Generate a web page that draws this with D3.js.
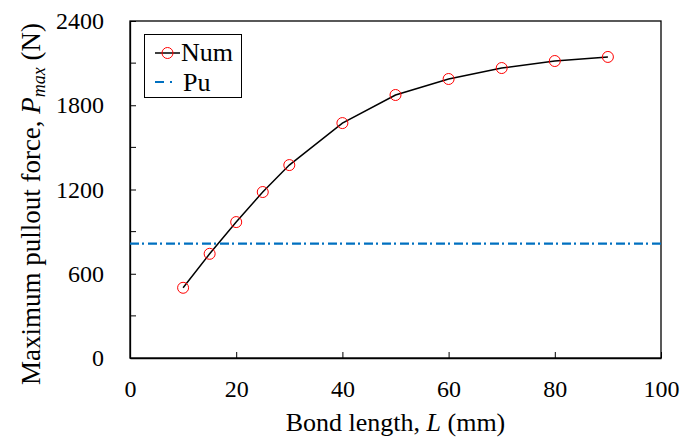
<!DOCTYPE html>
<html>
<head>
<meta charset="utf-8">
<script src="https://cdn.jsdelivr.net/npm/d3@7"></script>
<style>
  body { margin: 0; background: #fff; }
  svg text { font-family: "Liberation Serif", "Times New Roman", serif; fill: #000; }
</style>
</head>
<body>
<div id="chart"></div>
<script>
// data
let bondLength = [10, 15, 20, 25, 30, 40, 50, 60, 70, 80, 90];
let pullout = [500, 742, 968, 1182, 1374, 1673, 1873, 1987, 2065, 2115, 2144];
let puValue = 815;
let xTicks = [0, 20, 40, 60, 80, 100];
let yTicks = [0, 600, 1200, 1800, 2400];
let yMinor = [300, 900, 1500, 2100];

let width = 682, height = 441;
let margin = {top: 21, right: 21, bottom: 83, left: 130};

let svg = d3.select("#chart").append("svg")
    .attr("width", width)
    .attr("height", height);

let x = d3.scaleLinear().domain([0, 100]).range([margin.left, width - margin.right]);
let y = d3.scaleLinear().domain([0, 2400]).range([height - margin.bottom, margin.top]);

// frame
svg.append("rect")
    .attr("x", x(0)).attr("y", y(2400))
    .attr("width", x(100) - x(0)).attr("height", y(0) - y(2400))
    .attr("fill", "none").attr("stroke", "#000").attr("stroke-width", 1.3);

// x axis, ticks inside
let xAxis = svg.append("g")
    .attr("transform", "translate(0," + y(0) + ")")
    .call(d3.axisBottom(x).tickValues(xTicks).tickFormat(d3.format("d"))
        .tickSizeInner(-6).tickSizeOuter(0).tickPadding(22));
xAxis.select(".domain").attr("stroke-width", 1.3);
xAxis.selectAll("text").style("font-size", "24px").style("font-family", "Liberation Serif");

// y axis, major + minor inside
let yAxis = svg.append("g")
    .attr("transform", "translate(" + x(0) + ",0)")
    .call(d3.axisLeft(y).tickValues(yTicks).tickFormat(d3.format("d"))
        .tickSizeInner(-6).tickSizeOuter(0).tickPadding(26));
yAxis.select(".domain").attr("stroke-width", 1.3);
yAxis.selectAll("text").style("font-size", "24px").style("font-family", "Liberation Serif");
yAxis.selectAll(".minor")
    .data(yMinor)
    .enter().append("line")
    .attr("class", "minor")
    .attr("x1", 0).attr("x2", 6)
    .attr("y1", d => y(d)).attr("y2", d => y(d))
    .attr("stroke", "#000");

// Pu line
svg.append("line")
    .attr("x1", x(0)).attr("x2", x(100))
    .attr("y1", y(puValue)).attr("y2", y(puValue))
    .attr("stroke", "#0070C0").attr("stroke-width", 2.2)
    .attr("stroke-dasharray", "9,3,2,4");

// Num line
let line = d3.line()
    .x((d, i) => x(bondLength[i]))
    .y(d => y(d));
svg.append("path")
    .datum(pullout)
    .attr("d", line)
    .attr("fill", "none")
    .attr("stroke", "#000")
    .attr("stroke-width", 1.5);

svg.selectAll(".pt")
    .data(pullout)
    .enter().append("circle")
    .attr("class", "pt")
    .attr("cx", (d, i) => x(bondLength[i]))
    .attr("cy", d => y(d))
    .attr("r", 5.5)
    .attr("fill", "none")
    .attr("stroke", "#FF0000")
    .attr("stroke-width", 1);

// legend
let lg = svg.append("g");
lg.append("rect")
    .attr("x", 144.5).attr("y", 34.5).attr("width", 97).attr("height", 63)
    .attr("fill", "#fff").attr("stroke", "#000").attr("stroke-width", 1);
lg.append("line")
    .attr("x1", 155).attr("x2", 180).attr("y1", 53).attr("y2", 53)
    .attr("stroke", "#000").attr("stroke-width", 1.5);
lg.append("circle")
    .attr("cx", 167.5).attr("cy", 53).attr("r", 5.5)
    .attr("fill", "none").attr("stroke", "#FF0000");
lg.append("text")
    .attr("x", 181).attr("y", 61).style("font-size", "26px").text("Num");
lg.append("line")
    .attr("x1", 155).attr("x2", 180).attr("y1", 82).attr("y2", 82)
    .attr("stroke", "#0070C0").attr("stroke-width", 2.2)
    .attr("stroke-dasharray", "9,6,2,20");
lg.append("text")
    .attr("x", 183).attr("y", 91).style("font-size", "26px").text("Pu");

// axis titles
svg.append("text")
    .attr("x", (x(0) + x(100)) / 2)
    .attr("y", 431)
    .attr("text-anchor", "middle")
    .style("font-size", "26px")
    .html('Bond length, <tspan font-style="italic">L</tspan> (mm)');

svg.append("text")
    .attr("transform", "translate(40,204) rotate(-90)")
    .attr("text-anchor", "middle")
    .style("font-size", "27px")
    .html('Maximum pullout force, <tspan font-style="italic">P</tspan><tspan font-style="italic" font-size="18" dy="5">max</tspan><tspan dy="-5"> (N)</tspan>');
</script>
</body>
</html>
